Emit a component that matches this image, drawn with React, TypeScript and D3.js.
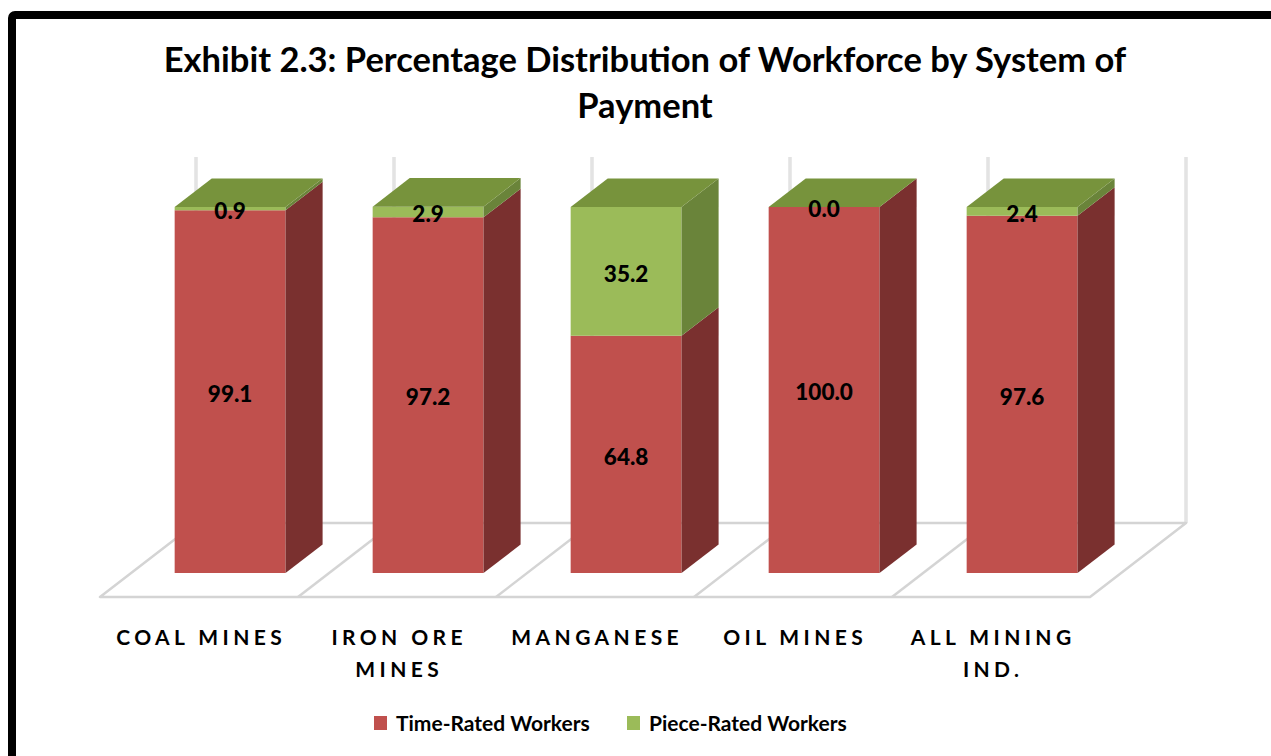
import { useEffect, useRef } from "react";
import * as d3 from "d3";

const categories = ["COAL MINES", "IRON ORE MINES", "MANGANESE", "OIL MINES", "ALL MINING IND."];
const categoryLines = [["COAL MINES"], ["IRON ORE", "MINES"], ["MANGANESE"], ["OIL MINES"], ["ALL MINING", "IND."]];
const timeRated = [99.1, 97.2, 64.8, 100.0, 97.6];
const pieceRated = [0.9, 2.9, 35.2, 0.0, 2.4];
const seriesNames = ["Time-Rated Workers", "Piece-Rated Workers"];

const FONT = "Lato, 'Open Sans', sans-serif";

export default function App() {
  const svgRef = useRef<SVGSVGElement>(null);

  useEffect(() => {
    if (!svgRef.current) return;
    const svg = d3.select(svgRef.current);
    svg.selectAll("*").remove();

    const width = 1271;
    const height = 756;

    // oblique 3d: depth vector for the whole floor
    const DX = 96;
    const DY = 74;
    const zFront = 0.324;
    const zBack = 0.71;

    const x = d3.scaleBand<string>().domain(categories).range([100, 1090]).paddingInner(0).paddingOuter(0);
    const y = d3.scaleLinear().domain([0, 100]).range([597, 231]);
    const barW = x.bandwidth() * 0.56;

    const pt = (px: number, v: number, z: number): [number, number] => [px + z * DX, y(v) - z * DY];
    const poly = (pts: [number, number][]) => pts.map((p) => p.join(",")).join(" ");

    svg.append("rect").attr("width", width).attr("height", height).attr("fill", "#ffffff");

    // frame
    svg.append("rect")
      .attr("x", 12).attr("y", 15)
      .attr("width", 1300).attr("height", 800)
      .attr("rx", 3)
      .attr("fill", "none")
      .attr("stroke", "#000")
      .attr("stroke-width", 8);

    // title
    const title = svg.append("text")
      .attr("text-anchor", "middle")
      .attr("font-family", FONT)
      .attr("font-weight", "bold")
      .attr("font-size", "34.5px")
      .attr("fill", "#000");
    title.append("tspan").attr("x", 645).attr("y", 72).text("Exhibit 2.3: Percentage Distribution of Workforce by System of");
    title.append("tspan").attr("x", 645).attr("y", 118).text("Payment");

    const grid = svg.append("g");
    const gridColor = "#d4d4d4";

    // back wall vertical lines
    const bounds = [...categories.map((c) => x(c) as number), x.range()[1]];
    bounds.forEach((b) => {
      const top = pt(b, 100, 1);
      const bot = pt(b, 0, 1);
      grid.append("line")
        .attr("x1", top[0]).attr("y1", top[1]).attr("x2", bot[0]).attr("y2", bot[1])
        .attr("stroke", gridColor).attr("stroke-width", 3);
      grid.append("line")
        .attr("x1", top[0]).attr("y1", top[1]).attr("x2", bot[0]).attr("y2", bot[1])
        .attr("stroke", "#f2f2f2").attr("stroke-width", 1);
    });

    // floor
    const x0 = x.range()[0];
    const x1 = x.range()[1];
    grid.append("polygon")
      .attr("points", poly([pt(x0, 0, 0), pt(x1, 0, 0), pt(x1, 0, 1), pt(x0, 0, 1)]))
      .attr("fill", "#ffffff")
      .attr("stroke", gridColor)
      .attr("stroke-width", 2.5)
      .attr("stroke-linejoin", "round");
    bounds.slice(1, -1).forEach((b) => {
      const a = pt(b, 0, 0);
      const c = pt(b, 0, 1);
      grid.append("line")
        .attr("x1", a[0]).attr("y1", a[1]).attr("x2", c[0]).attr("y2", c[1])
        .attr("stroke", gridColor).attr("stroke-width", 2.5);
    });

    // bars
    const colors = [
      { front: "#C0504D", side: "#7A302F", top: "#8E3A38" },
      { front: "#9BBB59", side: "#6A843A", top: "#77933C" },
    ];
    const bars = svg.append("g");
    const labels = svg.append("g");

    categories.forEach((cat, i) => {
      const bx0 = (x(cat) as number) + (x.bandwidth() - barW) / 2;
      const bx1 = bx0 + barW;
      const segs = [
        [0, timeRated[i]],
        [timeRated[i], timeRated[i] + pieceRated[i]],
      ];
      const vals = [timeRated[i], pieceRated[i]];
      segs.forEach(([v0, v1], s) => {
        const c = colors[s];
        // front
        bars.append("polygon")
          .attr("points", poly([pt(bx0, v0, zFront), pt(bx1, v0, zFront), pt(bx1, v1, zFront), pt(bx0, v1, zFront)]))
          .attr("fill", c.front);
        // side
        bars.append("polygon")
          .attr("points", poly([pt(bx1, v0, zFront), pt(bx1, v0, zBack), pt(bx1, v1, zBack), pt(bx1, v1, zFront)]))
          .attr("fill", c.side);
        if (s === segs.length - 1) {
          bars.append("polygon")
            .attr("points", poly([pt(bx0, v1, zFront), pt(bx1, v1, zFront), pt(bx1, v1, zBack), pt(bx0, v1, zBack)]))
            .attr("fill", c.top);
        }
        const lp = pt((bx0 + bx1) / 2, (v0 + v1) / 2, zFront);
        labels.append("text")
          .attr("x", lp[0])
          .attr("y", lp[1] + 2)
          .attr("dy", "0.36em")
          .attr("text-anchor", "middle")
          .attr("font-family", FONT)
          .attr("font-weight", "900")
          .attr("font-size", "22.5px")
          .attr("fill", "#000")
          .text(vals[s].toFixed(1));
      });
    });

    // category labels
    categories.forEach((cat, i) => {
      const cx = (x(cat) as number) + x.bandwidth() / 2;
      const t = svg.append("text")
        .attr("text-anchor", "middle")
        .attr("font-family", FONT)
        .attr("font-weight", "bold")
        .attr("font-size", "21px")
        .attr("letter-spacing", "4.4px")
        .attr("fill", "#000");
      categoryLines[i].forEach((line, j) => {
        t.append("tspan").attr("x", cx + 2.2).attr("y", 645 + j * 32).text(line);
      });
    });

    // legend
    const legend = svg.append("g").attr("transform", "translate(374, 716)");
    const legendX = [0, 253];
    seriesNames.forEach((name, i) => {
      const item = legend.append("g").attr("transform", `translate(${legendX[i]}, 0)`);
      item.append("rect").attr("width", 13).attr("height", 14).attr("fill", colors[i].front);
      item.append("text")
        .attr("x", 22)
        .attr("y", 15)
        .attr("font-family", FONT)
        .attr("font-weight", "bold")
        .attr("font-size", "21px")
        .attr("fill", "#000")
        .text(name);
    });
  }, []);

  return (
    <div style={{ position: "fixed", left: 0, top: 0 }}>
      <svg ref={svgRef} width={1271} height={756} viewBox="0 0 1271 756" style={{ display: "block" }} />
    </div>
  );
}
